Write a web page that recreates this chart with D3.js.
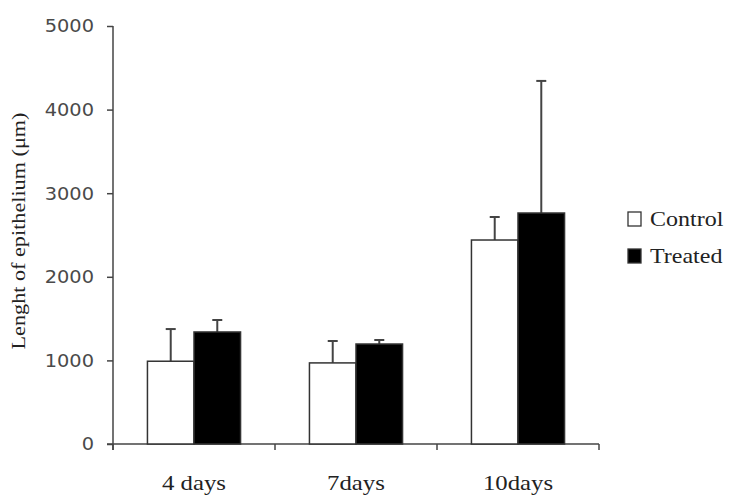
<!DOCTYPE html>
<html>
<head>
<meta charset="utf-8">
<script src="https://cdn.jsdelivr.net/npm/d3@7"></script>
<style>
  body { margin: 0; background: #fff; }
  svg { display: block; }
</style>
</head>
<body>
<svg width="732" height="499"></svg>
<script>
// values
var days = ["4 days", "7days", "10days"];
var groups = ["Control", "Treated"];
var controlMean = [990, 970, 2440];
var controlSd = [385, 262, 275];
var treatedMean = [1340, 1196, 2763];
var treatedSd = [143, 48, 1580];
var yTicks = [0, 1000, 2000, 3000, 4000, 5000];

var rows = days.map(function(d, i) {
  return [
    {day: d, group: "Control", mean: controlMean[i], sd: controlSd[i]},
    {day: d, group: "Treated", mean: treatedMean[i], sd: treatedSd[i]}
  ];
});

var margin = {top: 26, left: 113, right: 133, bottom: 55},
    width = 732 - margin.left - margin.right,
    height = 499 - margin.top - margin.bottom;

var axisColor = "#444";
var serif = "'Liberation Serif', 'Times New Roman', serif";

var svg = d3.select("svg");
var g = svg.append("g")
    .attr("transform", "translate(" + margin.left + "," + margin.top + ")");

var x = d3.scaleBand()
    .domain(days)
    .range([0, width]);

var xSub = d3.scaleBand()
    .domain(groups)
    .range([0, x.bandwidth()])
    .paddingOuter(0.74);

var y = d3.scaleLinear()
    .domain([0, 5000])
    .range([height, 0]);

var fill = d3.scaleOrdinal().domain(groups).range(["#fff", "#000"]);

// y axis
var yAxis = d3.axisLeft(y)
    .tickValues(yTicks)
    .tickSize(6)
    .tickSizeOuter(0)
    .tickFormat(d3.format("d"));

var gY = g.append("g").call(yAxis);
gY.select(".domain").attr("stroke", axisColor).attr("stroke-width", 1.5)
  .attr("d", "M0," + (height + 6) + "V0");
gY.selectAll(".tick line").attr("stroke", axisColor).attr("stroke-width", 1.5);
gY.selectAll(".tick text")
    .attr("fill", "#4a4a4a")
    .attr("font-family", "'DejaVu Sans', sans-serif")
    .attr("font-size", 17)
    .attr("x", 0)
    .attr("dy", "0.35em")
    .attr("transform", "translate(-19,0) scale(1.14,1)");

// x axis: band edges as ticks, labels under band centres
var edges = days.map(function(d) { return x(d); }).concat([width]);
var gX = g.append("g").attr("transform", "translate(0," + height + ")");
gX.append("line")
    .attr("x1", -6).attr("x2", width)
    .attr("stroke", axisColor).attr("stroke-width", 1.5);
gX.selectAll(".edge")
    .data(edges)
  .enter().append("line")
    .attr("class", "edge")
    .attr("x1", function(d) { return d; })
    .attr("x2", function(d) { return d; })
    .attr("y1", 0).attr("y2", 6)
    .attr("stroke", axisColor).attr("stroke-width", 1.5);
gX.selectAll(".lab")
    .data(days)
  .enter().append("text")
    .attr("class", "lab")
    .attr("transform", function(d) {
      return "translate(" + (x(d) + x.bandwidth() / 2) + ",46) scale(1.18,1)";
    })
    .attr("text-anchor", "middle")
    .attr("font-family", serif)
    .attr("font-size", 21)
    .attr("fill", "#222")
    .text(function(d) { return d; });

// bars
var cat = g.selectAll(".cat")
    .data(rows)
  .enter().append("g")
    .attr("class", "cat")
    .attr("transform", function(d) { return "translate(" + x(d[0].day) + ",0)"; });

// error bars (upper only), drawn before bars
var err = cat.selectAll(".err")
    .data(function(d) { return d; })
  .enter().append("g")
    .attr("class", "err")
    .attr("stroke", axisColor)
    .attr("stroke-width", 2);
err.append("line")
    .attr("x1", function(d) { return xSub(d.group) + xSub.bandwidth() / 2; })
    .attr("x2", function(d) { return xSub(d.group) + xSub.bandwidth() / 2; })
    .attr("y1", function(d) { return y(d.mean); })
    .attr("y2", function(d) { return y(d.mean + d.sd); });
err.append("line")
    .attr("x1", function(d) { return xSub(d.group) + xSub.bandwidth() / 2 - 5; })
    .attr("x2", function(d) { return xSub(d.group) + xSub.bandwidth() / 2 + 5; })
    .attr("y1", function(d) { return y(d.mean + d.sd); })
    .attr("y2", function(d) { return y(d.mean + d.sd); });

cat.selectAll("rect")
    .data(function(d) { return d; })
  .enter().append("rect")
    .attr("x", function(d) { return xSub(d.group); })
    .attr("width", xSub.bandwidth())
    .attr("y", function(d) { return y(d.mean); })
    .attr("height", function(d) { return height - y(d.mean); })
    .attr("fill", function(d) { return fill(d.group); })
    .attr("stroke", "#333")
    .attr("stroke-width", 1.5);

// y title
svg.append("text")
    .attr("transform", "translate(25,231) rotate(-90) scale(1.17,1)")
    .attr("text-anchor", "middle")
    .attr("font-family", serif)
    .attr("font-size", 19)
    .attr("fill", "#222")
    .text("Lenght of epithelium (\u03bcm)");

// legend
var legend = svg.append("g").attr("transform", "translate(628,212)");
var item = legend.selectAll(".item")
    .data(groups)
  .enter().append("g")
    .attr("class", "item")
    .attr("transform", function(d, i) { return "translate(0," + i * 37 + ")"; });
item.append("rect")
    .attr("width", 13).attr("height", 14)
    .attr("fill", function(d) { return fill(d); })
    .attr("stroke", "#333").attr("stroke-width", 1.3);
item.append("text")
    .attr("transform", "translate(22,14) scale(1.2,1)")
    .attr("font-family", serif)
    .attr("font-size", 20)
    .attr("fill", "#222")
    .text(function(d) { return d; });
</script>
</body>
</html>
